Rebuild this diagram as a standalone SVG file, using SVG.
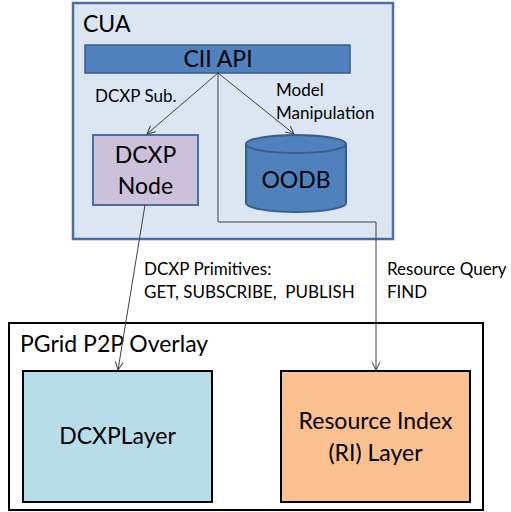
<svg xmlns="http://www.w3.org/2000/svg" width="511" height="512" viewBox="0 0 511 512">
<style>
text{font-family:Lato,"Liberation Sans",Arial,sans-serif;fill:#000}
.big{font-size:23px}
.sm{font-size:17px}
.c{text-anchor:middle}
.conn{fill:none;stroke:#404040;stroke-width:1}
</style>
<defs>
<marker id="arr" viewBox="0 0 10 10" refX="9" refY="5" markerWidth="10" markerHeight="10" markerUnits="userSpaceOnUse" orient="auto">
<polyline points="1,1 9,5 1,9" fill="none" stroke="#404040" stroke-width="1"/>
</marker>
</defs>
<rect width="511" height="512" fill="#fff"/>
<g id="cua">
<rect x="73" y="3" width="320" height="236" fill="#dce6f2" stroke="#4a6fa5" stroke-width="2.5"/>
<text class="big" x="83" y="32">CUA</text>
</g>
<g id="pgrid">
<rect x="9" y="323" width="474" height="187" fill="#fff" stroke="#000" stroke-width="2"/>
<text class="big" x="20" y="352">PGrid P2P Overlay</text>
</g>
<g id="ciiapi">
<rect x="85" y="45" width="265" height="28" fill="#4f81bd" stroke="#385d8a" stroke-width="1.5"/>
<text class="big c" x="218" y="67">CII API</text>
</g>
<g id="dcxpnode">
<rect x="93" y="135" width="105" height="70" fill="#ccc1da" stroke="#4a6fa5" stroke-width="2"/>
<text class="big c" x="145.5" y="163">DCXP</text>
<text class="big c" x="145.5" y="194">Node</text>
</g>
<g id="oodb">
<path d="M246,144 V203 A50,9 0 0 0 346,203 V144" fill="#4f81bd" stroke="#385d8a" stroke-width="2"/>
<ellipse cx="296" cy="144" rx="50" ry="9" fill="#4f81bd" stroke="#385d8a" stroke-width="2"/>
<text class="big c" x="296" y="188">OODB</text>
</g>
<g id="dcxplayer">
<rect x="23" y="371" width="189" height="131" fill="#b7dde8" stroke="#000" stroke-width="2"/>
<text class="big c" x="117.5" y="444">DCXPLayer</text>
</g>
<g id="rilayer">
<rect x="281" y="371" width="189" height="131" fill="#fac090" stroke="#000" stroke-width="2"/>
<text class="big c" x="375.5" y="429">Resource Index</text>
<text class="big c" x="375.5" y="461">(RI) Layer</text>
</g>
<g id="connectors">
<line class="conn" x1="218" y1="73" x2="147" y2="134" marker-end="url(#arr)"/>
<line class="conn" x1="218" y1="73" x2="294" y2="134" marker-end="url(#arr)"/>
<polyline class="conn" points="218,73 218,222 376,222 376,370" marker-end="url(#arr)"/>
<line class="conn" x1="145" y1="205" x2="118" y2="370" marker-end="url(#arr)"/>
<text class="sm" x="95" y="102">DCXP Sub.</text>
<text class="sm" x="276" y="96">Model</text>
<text class="sm" x="276" y="119">Manipulation</text>
<text class="sm" x="144" y="275">DCXP Primitives:</text>
<text class="sm" x="144" y="298" xml:space="preserve">GET, SUBSCRIBE,  PUBLISH</text>
<text class="sm" x="387" y="275">Resource Query</text>
<text class="sm" x="387" y="298">FIND</text>
</g>
</svg>
